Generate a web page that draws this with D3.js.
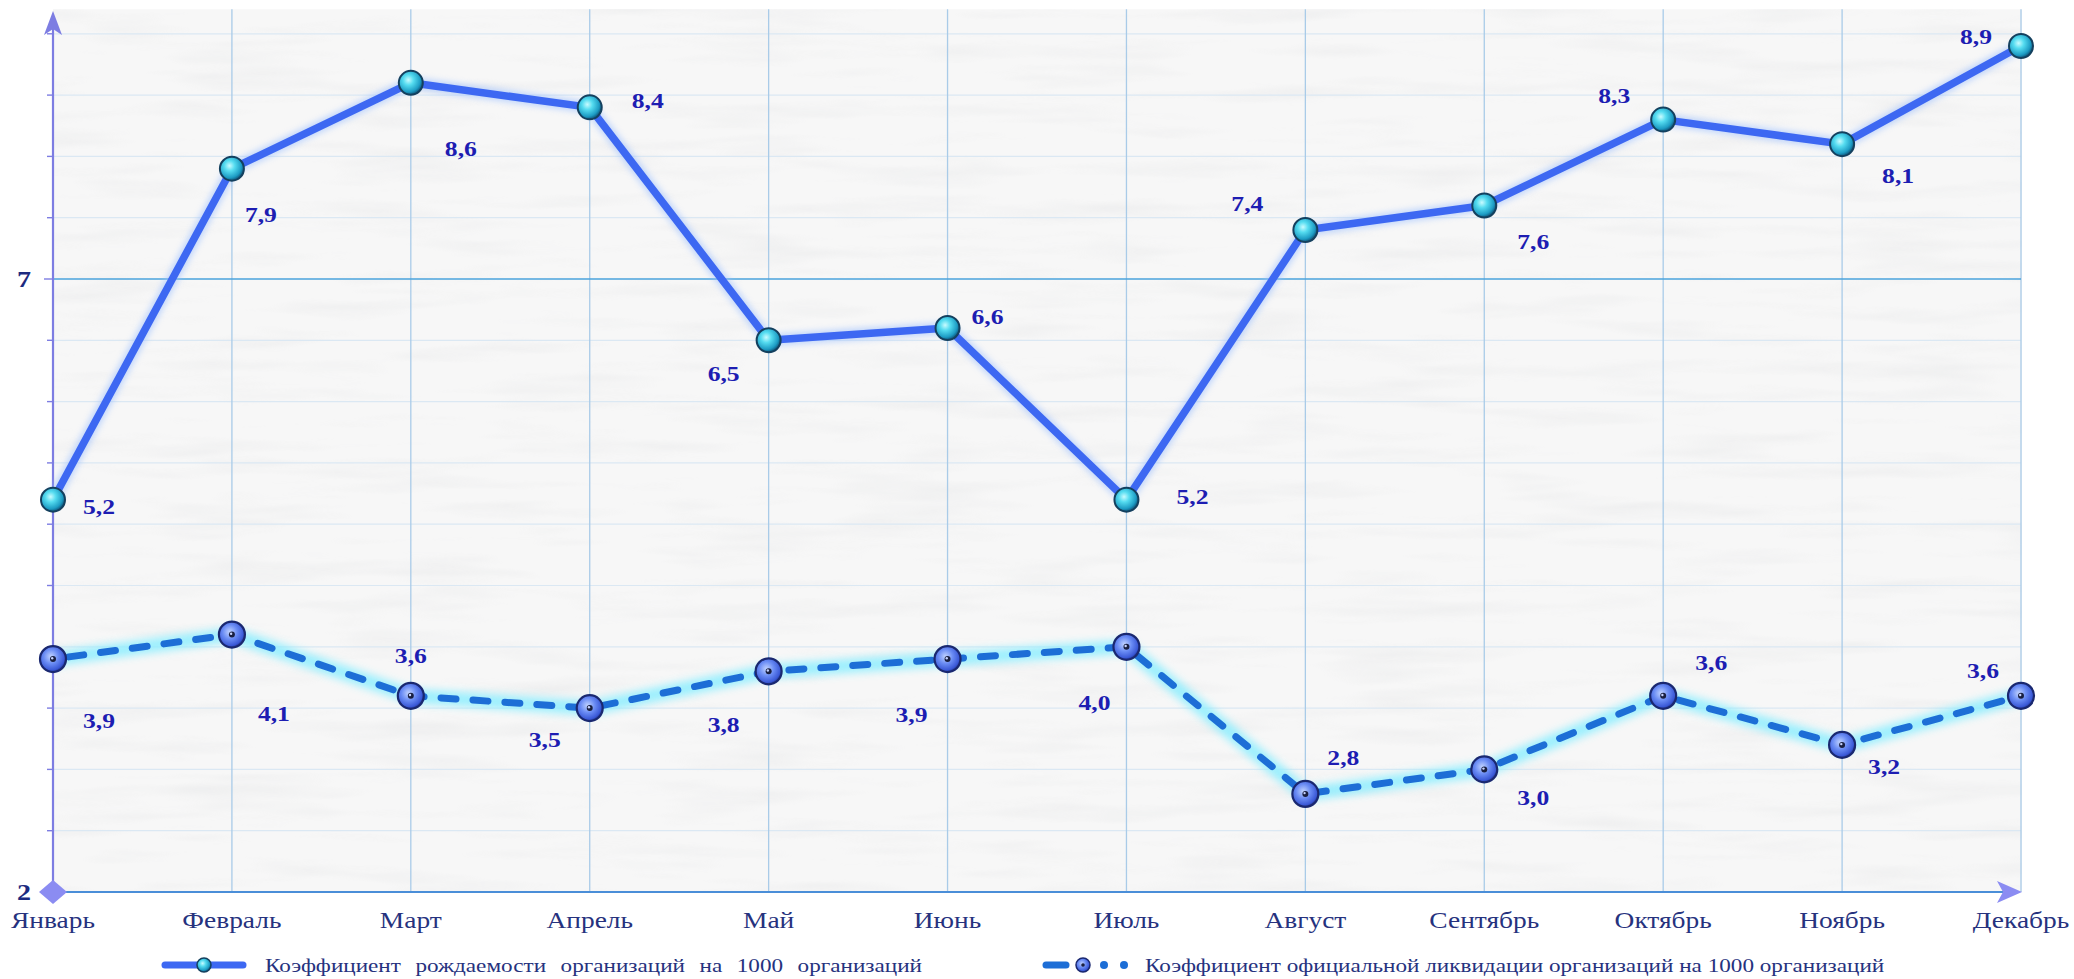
<!DOCTYPE html>
<html>
<head>
<meta charset="utf-8">
<script src="https://cdn.jsdelivr.net/npm/d3@7"></script>
<style>
  html, body { margin: 0; padding: 0; background: #ffffff; }
  svg { display: block; }
</style>
</head>
<body>
<svg id="chart" width="2074" height="979"></svg>
<script>
// ---------------- DATA ----------------
const months = ["Январь","Февраль","Март","Апрель","Май","Июнь","Июль","Август","Сентябрь","Октябрь","Ноябрь","Декабрь"];
const birthRate = [5.2, 7.9, 8.6, 8.4, 6.5, 6.6, 5.2, 7.4, 7.6, 8.3, 8.1, 8.9];
const liquidationRate = [3.9, 4.1, 3.6, 3.5, 3.8, 3.9, 4.0, 2.8, 3.0, 3.6, 3.2, 3.6];
const yTickLabels = [2, 7];
const seriesNames = [
  "Коэффициент рождаемости организаций на 1000 организаций",
  "Коэффициент официальной ликвидации организаций на 1000 организаций"
];

// ---------------- LAYOUT (label offsets in px) ----------------
const birthLabelOffsets = [[46,7],[29,46],[50,66],[58,-7],[-45,34],[40,-11],[66,-3],[-58,-26],[49,36],[-49,-24],[56,32],[-45,-9]];
const liqLabelOffsets = [[46,62],[42,79],[0,-40],[-45,32],[-45,54],[-36,56],[-32,56],[38,-36],[49,28],[48,-33],[42,22],[-38,-25]];

const svg = d3.select("#chart");
const x0 = 53, x1 = 2021;
const x = d3.scalePoint().domain(months).range([x0, x1]);
const y = d3.scaleLinear().domain([2, 7]).range([892, 279]);
const yTop = y(9.2);
const fmt = v => d3.format(".1f")(v).replace(".", ",");
const SX = 1.22;

const defs = svg.append("defs");
// background texture
const tex = defs.append("filter").attr("id","tex").attr("x",0).attr("y",0).attr("width","100%").attr("height","100%");
tex.append("feTurbulence").attr("type","fractalNoise").attr("baseFrequency","0.006 0.05").attr("numOctaves",3).attr("seed",7).attr("result","n");
tex.append("feColorMatrix").attr("in","n").attr("type","matrix")
  .attr("values","0 0 0 0 0.6  0 0 0 0 0.61  0 0 0 0 0.63  0 0 0 -1.2 0.62");
const glow = defs.append("filter").attr("id","glow").attr("x","-5%").attr("y","-20%").attr("width","110%").attr("height","140%");
glow.append("feGaussianBlur").attr("stdDeviation",4);
const soft = defs.append("filter").attr("id","soft").attr("x","-5%").attr("y","-20%").attr("width","110%").attr("height","140%");
soft.append("feGaussianBlur").attr("stdDeviation",3);

const g1 = defs.append("radialGradient").attr("id","ball1").attr("cx","40%").attr("cy","38%").attr("r","62%");
g1.append("stop").attr("offset","0%").attr("stop-color","#c8fbff");
g1.append("stop").attr("offset","35%").attr("stop-color","#55dcf0");
g1.append("stop").attr("offset","80%").attr("stop-color","#1d9cc4");
g1.append("stop").attr("offset","100%").attr("stop-color","#0f5a80");
const g2 = defs.append("radialGradient").attr("id","ball2").attr("cx","42%").attr("cy","40%").attr("r","62%");
g2.append("stop").attr("offset","0%").attr("stop-color","#c0d2ff");
g2.append("stop").attr("offset","45%").attr("stop-color","#6a8cf4");
g2.append("stop").attr("offset","85%").attr("stop-color","#3a58d6");
g2.append("stop").attr("offset","100%").attr("stop-color","#1c2d80");

// plot background
svg.append("rect").attr("x", x0).attr("y", yTop).attr("width", x1 - x0 + 1).attr("height", y(2) - yTop).attr("fill", "#f7f7f7");
svg.append("rect").attr("x", x0).attr("y", yTop).attr("width", x1 - x0 + 1).attr("height", y(2) - yTop).attr("filter","url(#tex)").attr("opacity",0.35);

// minor horizontal gridlines
const minor = d3.range(2.5, 9.01, 0.5).filter(v => v !== 7);
svg.append("g").selectAll("line").data(minor).join("line")
  .attr("x1", x0).attr("x2", x1).attr("y1", d => y(d)).attr("y2", d => y(d))
  .attr("stroke", "#dbe8f3").attr("stroke-width", 1.2);
// vertical gridlines
svg.append("g").selectAll("line").data(months.slice(1)).join("line")
  .attr("x1", d => x(d)).attr("x2", d => x(d)).attr("y1", yTop).attr("y2", y(2))
  .attr("stroke", "#a9cbe8").attr("stroke-width", 1.3);
// major gridline at 7
svg.append("line").attr("x1", x0).attr("x2", x1).attr("y1", y(7)).attr("y2", y(7))
  .attr("stroke", "#4aa3dc").attr("stroke-width", 1.6);

// y axis ticks
svg.append("g").selectAll("line").data(d3.range(2.5, 9.01, 0.5)).join("line")
  .attr("x1", d => d === 7 ? x0 - 9 : x0 - 6).attr("x2", x0)
  .attr("y1", d => y(d)).attr("y2", d => y(d))
  .attr("stroke", "#7d7de2").attr("stroke-width", 1.4);

// x axis
svg.append("line").attr("x1", x0).attr("x2", x1 - 10).attr("y1", y(2)).attr("y2", y(2))
  .attr("stroke", "#4a8ed8").attr("stroke-width", 2.2);
svg.append("path").attr("d", `M${x1+1},${y(2)} L${x1-24},${y(2)-11} L${x1-18},${y(2)} L${x1-24},${y(2)+11} Z`)
  .attr("fill", "#8b8cf2");
// y axis
svg.append("line").attr("x1", x0).attr("x2", x0).attr("y1", y(2)).attr("y2", 28)
  .attr("stroke", "#7d7de2").attr("stroke-width", 2.2);
svg.append("path").attr("d", `M${x0},11 L${x0+9},35 L${x0},29 L${x0-9},35 Z`).attr("fill", "#7d7de2");
// origin diamond
svg.append("path").attr("d", `M${x0-14},${y(2)} L${x0},${y(2)-12} L${x0+14},${y(2)} L${x0},${y(2)+12} Z`).attr("fill", "#8b8cf2");

// y tick labels
svg.append("g").selectAll("text").data(yTickLabels).join("text")
  .attr("transform", d => `translate(31,${y(d) + 8}) scale(${SX},1)`).attr("text-anchor", "end")
  .attr("font-family", "Liberation Serif").attr("font-weight", "bold").attr("font-size", 23)
  .attr("fill", "#1c2a80").text(d => d);

// month labels
svg.append("g").selectAll("text").data(months).join("text")
  .attr("transform", d => `translate(${x(d)},928) scale(${SX},1)`)
  .attr("text-anchor", "middle")
  .attr("font-family", "Liberation Serif").attr("font-size", 22.5)
  .attr("fill", "#26327e").text(d => d);

// series lines
const line = d3.line().x((d, i) => x(months[i])).y(d => y(d));
// series 1
svg.append("path").datum(birthRate).attr("d", line).attr("fill","none")
  .attr("stroke", "#9cc0ff").attr("stroke-width", 12).attr("opacity", 0.6).attr("filter","url(#soft)");
svg.append("path").datum(birthRate).attr("d", line).attr("fill","none")
  .attr("stroke", "#3d68f2").attr("stroke-width", 7.5).attr("stroke-linejoin","round");
// series 2
svg.append("path").datum(liquidationRate).attr("d", line).attr("fill","none")
  .attr("stroke", "#8aeeff").attr("stroke-width", 14).attr("opacity", 0.85).attr("filter","url(#glow)");
svg.append("path").datum(liquidationRate).attr("d", line).attr("fill","none")
  .attr("stroke", "#1d6ed6").attr("stroke-width", 7).attr("stroke-dasharray", "15,17")
  .attr("stroke-linecap","round").attr("stroke-dashoffset", -16);

// markers series 1
svg.append("g").selectAll("circle").data(birthRate).join("circle")
  .attr("cx", (d, i) => x(months[i])).attr("cy", d => y(d)).attr("r", 12)
  .attr("fill", "url(#ball1)").attr("stroke", "#14405e").attr("stroke-width", 2);
// markers series 2
const m2 = svg.append("g").selectAll("g").data(liquidationRate).join("g")
  .attr("transform", (d, i) => `translate(${x(months[i])},${y(d)})`);
m2.append("circle").attr("r", 13).attr("fill", "url(#ball2)").attr("stroke", "#1a2870").attr("stroke-width", 2.2);
m2.append("circle").attr("r", 3).attr("fill", "#1a2040");
m2.append("circle").attr("r", 1.2).attr("cx", -0.8).attr("cy", -0.8).attr("fill", "#c8d4ff");

// data labels
function labels(data, offs) {
  svg.append("g").selectAll("text").data(data).join("text")
    .attr("transform", (d, i) => `translate(${x(months[i]) + offs[i][0]},${y(d) + offs[i][1]}) scale(1.25,1)`)
    .attr("text-anchor", "middle").attr("dy", "0.35em")
    .attr("font-family", "Liberation Serif").attr("font-weight", "bold").attr("font-size", 20.5)
    .attr("fill", "#1d1db2").text(d => fmt(d));
}
labels(birthRate, birthLabelOffsets);
labels(liquidationRate, liqLabelOffsets);

// legend
const legY = 965;
const leg = svg.append("g");
// item 1
leg.append("line").attr("x1", 165).attr("x2", 243).attr("y1", legY).attr("y2", legY)
  .attr("stroke", "#3d68f2").attr("stroke-width", 7).attr("stroke-linecap", "round");
leg.append("circle").attr("cx", 204).attr("cy", legY).attr("r", 7).attr("fill", "url(#ball1)").attr("stroke", "#14405e").attr("stroke-width", 1.5);
// item 2
leg.append("line").attr("x1", 1046).attr("x2", 1066).attr("y1", legY).attr("y2", legY)
  .attr("stroke", "#1d6ed6").attr("stroke-width", 7).attr("stroke-linecap", "round");
leg.append("circle").attr("cx", 1083).attr("cy", legY).attr("r", 7).attr("fill", "url(#ball2)").attr("stroke", "#1a2870").attr("stroke-width", 1.5);
leg.append("circle").attr("cx", 1083).attr("cy", legY).attr("r", 1.8).attr("fill", "#1a2040");
leg.append("circle").attr("cx", 1104).attr("cy", legY).attr("r", 4).attr("fill", "#1d6ed6");
leg.append("circle").attr("cx", 1124).attr("cy", legY).attr("r", 4).attr("fill", "#1d6ed6");

const legendTexts = [
  {name: seriesNames[0], x: 265, w: 657},
  {name: seriesNames[1], x: 1145, w: 732}
];
legendTexts.forEach(t => {
  const el = leg.append("text")
    .attr("transform", `translate(${t.x},${legY + 7}) scale(${SX},1)`)
    .attr("font-family", "Liberation Serif").attr("font-size", 19)
    .attr("fill", "#26327e").text(t.name);
  const natural = el.node().getComputedTextLength();
  const spaces = (t.name.match(/ /g) || []).length;
  const extra = (t.w / SX - natural) / spaces;
  if (extra > 0) el.attr("word-spacing", extra);
});
</script>
</body>
</html>
